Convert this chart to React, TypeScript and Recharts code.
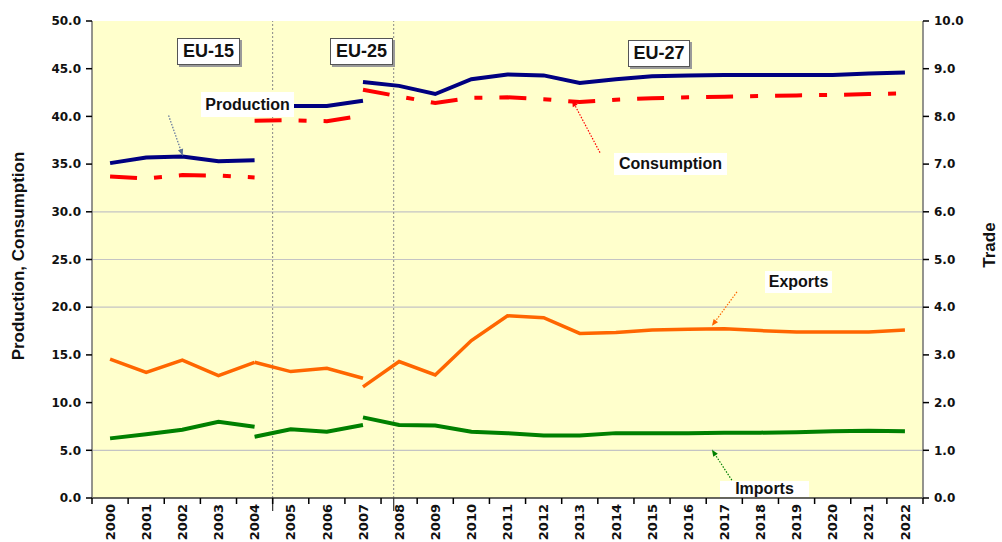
import React from "react";
import { LineChart, Line, XAxis, YAxis, ReferenceLine, ReferenceArea } from "recharts";

const years = [
  2000, 2001, 2002, 2003, 2004, 2005, 2006, 2007, 2008, 2009, 2010, 2011,
  2012, 2013, 2014, 2015, 2016, 2017, 2018, 2019, 2020, 2021, 2022
];

// left axis (production / consumption), each block starts at the given year
const prodEU15 = [35.1, 35.7, 35.8, 35.3, 35.4]; // 2000-2004
const prodEU25 = [41.1, 41.1, 41.1, 41.65]; // 2004-2007
const prodEU27 = [43.6, 43.2, 42.35, 43.9, 44.4, 44.3, 43.5, 43.9, 44.2, 44.3, 44.35, 44.35, 44.35, 44.35, 44.5, 44.6]; // 2007-2022

const consEU15 = [33.7, 33.5, 33.85, 33.8, 33.6];
const consEU25 = [39.55, 39.6, 39.5, 40.1];
const consEU27 = [42.8, 42.1, 41.4, 41.95, 42.0, 41.8, 41.5, 41.75, 41.9, 42.0, 42.07, 42.14, 42.2, 42.25, 42.35, 42.4];

// right axis (trade)
const expEU15 = [2.91, 2.635, 2.89, 2.565, 2.845];
const expEU25 = [2.845, 2.65, 2.72, 2.51];
const expEU27 = [2.33, 2.86, 2.58, 3.3, 3.82, 3.78, 3.45, 3.47, 3.52, 3.54, 3.55, 3.51, 3.48, 3.48, 3.48, 3.52];

const impEU15 = [1.25, 1.335, 1.43, 1.6, 1.495];
const impEU25 = [1.285, 1.44, 1.39, 1.53];
const impEU27 = [1.69, 1.53, 1.52, 1.39, 1.36, 1.31, 1.31, 1.36, 1.36, 1.36, 1.37, 1.37, 1.38, 1.4, 1.41, 1.4];

const leftTicks = [0, 5, 10, 15, 20, 25, 30, 35, 40, 45, 50];
const rightTicks = [0, 1, 2, 3, 4, 5, 6, 7, 8, 9, 10];
const gridValues = [5, 20, 25, 30];
const enlargements = [4.5, 7.85]; // EU-25 / EU-27 markers on the year axis

const place = (vals: number[], start: number) =>
  years.map((y) => (y >= start && y < start + vals.length ? vals[y - start] : null));

const p15 = place(prodEU15, 2000), p25 = place(prodEU25, 2004), p27 = place(prodEU27, 2007);
const c15 = place(consEU15, 2000), c25 = place(consEU25, 2004), c27 = place(consEU27, 2007);
const e15 = place(expEU15, 2000), e25 = place(expEU25, 2004), e27 = place(expEU27, 2007);
const i15 = place(impEU15, 2000), i25 = place(impEU25, 2004), i27 = place(impEU27, 2007);

const data = years.map((year, i) => ({
  i, year,
  p15: p15[i], p25: p25[i], p27: p27[i],
  c15: c15[i], c25: c25[i], c27: c27[i],
  e15: e15[i], e25: e25[i], e27: e27[i],
  i15: i15[i], i25: i25[i], i27: i27[i]
}));

const xTicks: number[] = [];
for (let k = 0; k <= years.length * 2; k++) xTicks.push(k / 2 - 0.5);

const tickFont = { fontFamily: "DejaVu Sans", fontWeight: 700, fontSize: 12, fill: "#111" };

function YearTick(props: any) {
  const { x, y, payload } = props;
  const v = payload.value;
  if (Number.isInteger(v)) {
    const ty = y;
    return (
      <text x={x} y={ty} transform={`rotate(-90 ${x} ${ty})`} textAnchor="end" dy="0.36em"
        style={{ ...tickFont, fontSize: 13 }}>
        {years[v]}
      </text>
    );
  }
  return <line x1={x} x2={x} y1={y - 6} y2={y} stroke="#000" strokeWidth={1.5} />;
}

function Divider(props: any) {
  const { x1, y1, x2, y2 } = props;
  const bottom = Math.max(y1, y2);
  return (
    <g>
      <line x1={x1} y1={y1} x2={x2} y2={y2} stroke="#888" strokeDasharray="2 2" />
      <line x1={x1} y1={bottom} x2={x2} y2={bottom + 13} stroke="#333" strokeWidth={1.2} />
    </g>
  );
}

function leader(color: string) {
  return (props: any) => {
    const { x1, y1, x2, y2 } = props;
    const a = Math.atan2(y2 - y1, x2 - x1);
    const s = 7;
    const pts = [
      [x2, y2],
      [x2 - s * Math.cos(a - 0.4), y2 - s * Math.sin(a - 0.4)],
      [x2 - s * Math.cos(a + 0.4), y2 - s * Math.sin(a + 0.4)]
    ].map((p) => p.join(",")).join(" ");
    return (
      <g>
        <line x1={x1} y1={y1} x2={x2} y2={y2} stroke={color} strokeWidth={1.2} strokeDasharray="1.5 1.5" />
        <polygon points={pts} fill={color} />
      </g>
    );
  };
}

const boxStyle: React.CSSProperties = {
  position: "absolute", display: "flex", alignItems: "center", justifyContent: "center",
  fontFamily: "Liberation Sans, Arial, sans-serif", fontWeight: 700, color: "#111",
  background: "#fff", boxSizing: "border-box"
};

const euBox: React.CSSProperties = {
  ...boxStyle, fontSize: 18, border: "1px solid #555", boxShadow: "2px 2px 0 #9a9a9a"
};

const seriesLabel: React.CSSProperties = { ...boxStyle, fontSize: 16 };

const titleStyle: React.CSSProperties = {
  position: "absolute", width: 280, height: 22, lineHeight: "22px", textAlign: "center",
  transform: "rotate(-90deg)", fontFamily: "Liberation Sans, Arial, sans-serif",
  fontWeight: 700, fontSize: 17, color: "#111"
};

export default function App() {
  return (
    <div style={{ position: "absolute", left: 0, top: 0, width: 1002, height: 542, background: "#fff" }}>
      <LineChart width={1002} height={542} data={data} margin={{ top: 21, right: 19, left: 32, bottom: 0 }}>
        <XAxis
          dataKey="i" type="number" domain={[-0.5, 22.5]} ticks={xTicks} interval={0}
          tickLine={false} tickSize={6} tickMargin={0} height={44}
          axisLine={{ stroke: "#333", strokeWidth: 1.5 }} tick={<YearTick />}
        />
        <YAxis
          yAxisId="left" domain={[0, 50]} ticks={leftTicks} width={60} interval={0}
          tickFormatter={(v: number) => v.toFixed(1)} tick={tickFont} tickMargin={5}
          axisLine={{ stroke: "#707070", strokeWidth: 1.5 }} tickLine={{ stroke: "#000", strokeWidth: 1.5 }}
        />
        <YAxis
          yAxisId="right" orientation="right" domain={[0, 10]} ticks={rightTicks} width={60} interval={0}
          tickFormatter={(v: number) => v.toFixed(1)} tick={tickFont} tickMargin={5}
          axisLine={{ stroke: "#707070", strokeWidth: 1.5 }} tickLine={{ stroke: "#000", strokeWidth: 1.5 }}
        />
        <ReferenceArea yAxisId="left" x1={-0.5} x2={22.5} y1={0} y2={50} fill="#ffffcc" fillOpacity={1} stroke="none" />
        {gridValues.map((g) => (
          <ReferenceLine key={g} yAxisId="left" y={g} stroke="#c4c4c4" strokeWidth={1.2} />
        ))}
        {enlargements.map((x) => (
          <ReferenceLine key={x} yAxisId="left" x={x} shape={Divider} />
        ))}

        <Line yAxisId="right" dataKey="i15" stroke="#008000" strokeWidth={4} dot={false} activeDot={false} isAnimationActive={false} />
        <Line yAxisId="right" dataKey="i25" stroke="#008000" strokeWidth={4} dot={false} activeDot={false} isAnimationActive={false} />
        <Line yAxisId="right" dataKey="i27" stroke="#008000" strokeWidth={4} dot={false} activeDot={false} isAnimationActive={false} />
        <Line yAxisId="right" dataKey="e15" stroke="#ff6600" strokeWidth={3.5} dot={false} activeDot={false} isAnimationActive={false} />
        <Line yAxisId="right" dataKey="e25" stroke="#ff6600" strokeWidth={3.5} dot={false} activeDot={false} isAnimationActive={false} />
        <Line yAxisId="right" dataKey="e27" stroke="#ff6600" strokeWidth={3.5} dot={false} activeDot={false} isAnimationActive={false} />
        <Line yAxisId="left" dataKey="c15" stroke="#ff0000" strokeWidth={4} strokeDasharray="27 17 8 17" dot={false} activeDot={false} isAnimationActive={false} />
        <Line yAxisId="left" dataKey="c25" stroke="#ff0000" strokeWidth={4} strokeDasharray="27 17 8 17" dot={false} activeDot={false} isAnimationActive={false} />
        <Line yAxisId="left" dataKey="c27" stroke="#ff0000" strokeWidth={4} strokeDasharray="27 17 8 17" dot={false} activeDot={false} isAnimationActive={false} />
        <Line yAxisId="left" dataKey="p15" stroke="#000080" strokeWidth={4} dot={false} activeDot={false} isAnimationActive={false} />
        <Line yAxisId="left" dataKey="p25" stroke="#000080" strokeWidth={4} dot={false} activeDot={false} isAnimationActive={false} />
        <Line yAxisId="left" dataKey="p27" stroke="#000080" strokeWidth={4} dot={false} activeDot={false} isAnimationActive={false} />

        <ReferenceLine yAxisId="left" segment={[{ x: 1.62, y: 40.1 }, { x: 2.01, y: 35.9 }]} shape={leader("#5a6f9a")} />
        <ReferenceLine yAxisId="left" segment={[{ x: 13.56, y: 36.2 }, { x: 12.79, y: 41.7 }]} shape={leader("#ff0000")} />
        <ReferenceLine yAxisId="right" segment={[{ x: 17.35, y: 4.32 }, { x: 16.66, y: 3.61 }]} shape={leader("#ff6600")} />
        <ReferenceLine yAxisId="right" segment={[{ x: 17.3, y: 0.27 }, { x: 16.66, y: 1.01 }]} shape={leader("#008000")} />
      </LineChart>

      <div style={{ ...euBox, left: 177, top: 38, width: 63, height: 27 }}>EU-15</div>
      <div style={{ ...euBox, left: 330, top: 38, width: 63, height: 27 }}>EU-25</div>
      <div style={{ ...euBox, left: 628, top: 40, width: 62, height: 27 }}>EU-27</div>

      <div style={{ ...seriesLabel, left: 201, top: 92, width: 93, height: 25 }}>Production</div>
      <div style={{ ...seriesLabel, left: 614, top: 153, width: 113, height: 22 }}>Consumption</div>
      <div style={{ ...seriesLabel, left: 765, top: 271, width: 67, height: 22 }}>Exports</div>
      <div style={{ ...seriesLabel, left: 720, top: 481, width: 89, height: 16 }}>Imports</div>

      <div style={{ ...titleStyle, left: 19 - 140, top: 256 - 11 }}>Production, Consumption</div>
      <div style={{ ...titleStyle, left: 990 - 140, top: 245 - 11 }}>Trade</div>
    </div>
  );
}
